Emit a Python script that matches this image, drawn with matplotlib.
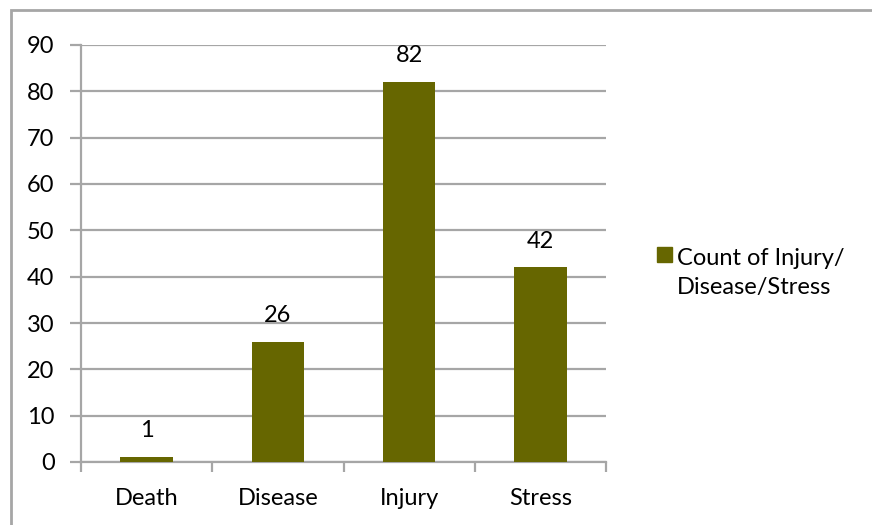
import numpy as np
import matplotlib.pyplot as plt
from matplotlib.patches import Rectangle

categories = ['Death', 'Disease', 'Injury', 'Stress']
counts = [1, 26, 82, 42]
series_name = 'Count of Injury/\nDisease/Stress'

W, H = 872, 525
plt.rcParams['font.family'] = ['Lato', 'DejaVu Sans']
fs = 17

fig = plt.figure(figsize=(W / 100, H / 100), dpi=100)
ax = fig.add_axes([81 / W, 1 - 462 / H, (606 - 81) / W, (462 - 45) / H])

grid_col = '#a6a6a6'
bar_col = '#666600'

x = np.arange(len(categories))
bars = ax.bar(x, counts, width=0.4, color=bar_col, zorder=3)

ax.set_xlim(-0.5, 3.5)
ax.set_ylim(0, 90)
ax.set_yticks(np.arange(0, 91, 10))
ax.yaxis.grid(True, color=grid_col, linewidth=1.6, zorder=0)
ax.set_axisbelow(True)

# category boundaries get tick marks, labels sit in the middle
ax.set_xticks(np.arange(-0.5, 4, 1))
ax.set_xticklabels([])
ax.set_xticks(x, minor=True)
ax.set_xticklabels(categories, minor=True)
ax.tick_params(axis='x', which='minor', length=0, pad=19, labelsize=fs)
ax.tick_params(axis='x', which='major', length=7, width=1.6, color=grid_col)
ax.tick_params(axis='y', length=8, width=1.6, color=grid_col, labelsize=fs, pad=11)

for s in ['top', 'right']:
    ax.spines[s].set_visible(False)
for s in ['left', 'bottom']:
    ax.spines[s].set_color(grid_col)
    ax.spines[s].set_linewidth(1.6)

for b, v in zip(bars, counts):
    ax.annotate(str(v), (b.get_x() + b.get_width() / 2, v), xytext=(0, 19),
                textcoords='offset points', ha='center', va='center', fontsize=fs)

# legend: square key next to the first line of the label
fig.patches.append(Rectangle((657 / W, 1 - 262 / H), 15 / W, 15 / H,
                             transform=fig.transFigure, color=bar_col))
fig.text(677 / W, 1 - 248 / H, series_name, ha='left', va='top',
         fontsize=fs, linespacing=1.45)

# outer chart border, cut off at the right and bottom like the screenshot
fig.patches.append(Rectangle((11 / W, -0.1), 1.2, 1 - 10 / H + 0.1,
                             transform=fig.transFigure, fill=False,
                             edgecolor=grid_col, linewidth=2))

fig.savefig('out.png', dpi=100)
